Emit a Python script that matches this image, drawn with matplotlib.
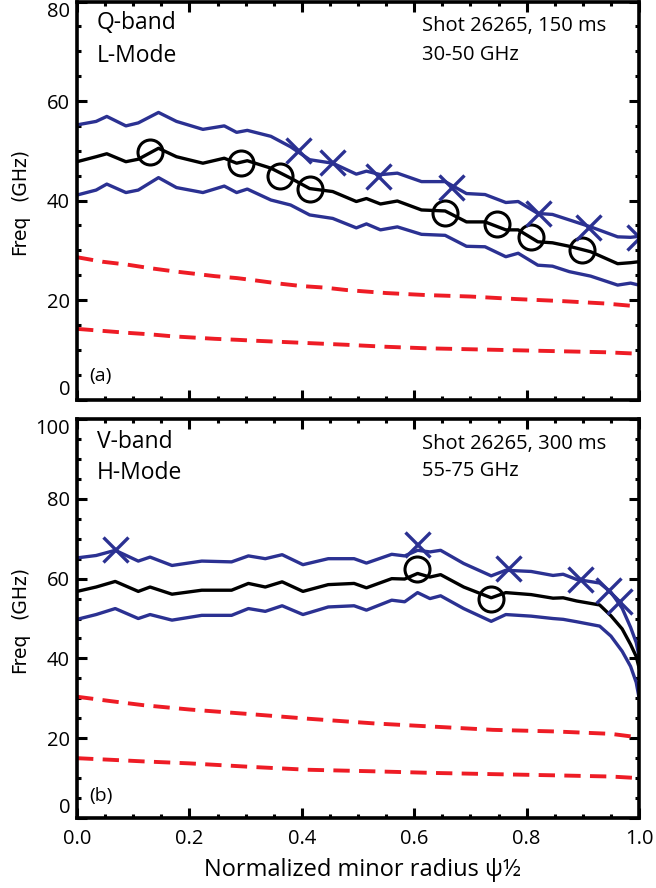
import matplotlib
matplotlib.use("Agg")
import matplotlib.pyplot as plt
from matplotlib.ticker import MultipleLocator

plt.rcParams["font.family"] = ["Open Sans", "DejaVu Sans"]

# --- panel (a): Q-band, L-mode ---
qa_x = [0, 0.034, 0.053, 0.087, 0.109, 0.145, 0.177, 0.224, 0.262, 0.284, 0.303,
        0.345, 0.38, 0.414, 0.455, 0.497, 0.515, 0.54, 0.57, 0.613, 0.655, 0.693,
        0.726, 0.763, 0.785, 0.82, 0.846, 0.876, 0.914, 0.962, 0.985, 1.0]
qa_upper = [55.2, 55.9, 56.9, 55.0, 55.6, 57.7, 55.9, 54.3, 55.0, 53.7, 54.1,
            52.9, 50.8, 48.2, 47.5, 45.3, 45.9, 45.2, 45.5, 43.8, 43.8, 41.4,
            41.2, 39.6, 39.8, 37.4, 37.2, 36.1, 34.7, 32.7, 32.6, 32.8]
qa_mid = [47.8, 48.8, 49.4, 47.8, 48.3, 50.5, 48.8, 47.5, 48.5, 47.5, 48.0,
          46.5, 44.5, 42.4, 41.8, 39.8, 40.4, 39.3, 39.9, 38.1, 37.9, 35.7,
          35.7, 34.1, 34.1, 31.7, 31.5, 30.8, 29.7, 27.3, 27.5, 27.7]
qa_lower = [41.1, 42.1, 43.3, 41.6, 42.1, 44.6, 42.6, 41.6, 42.9, 41.6, 42.3,
            40.1, 39.1, 37.1, 36.4, 34.5, 35.3, 34.1, 34.7, 33.2, 33.0, 30.8,
            30.7, 28.7, 29.4, 27.0, 26.8, 25.7, 24.8, 23.0, 23.4, 23.0]

qa_fc_x = [0, 0.045, 0.09, 0.13, 0.17, 0.2, 0.245, 0.285, 0.32, 0.36, 0.40,
           0.44, 0.48, 0.55, 0.62, 0.7, 0.78, 0.86, 0.94, 1.0]
qa_fc2 = [28.6, 27.7, 27.1, 26.4, 25.8, 25.4, 24.8, 24.4, 23.9, 23.3, 22.8,
          22.5, 22.0, 21.4, 21.0, 20.7, 20.2, 19.8, 19.3, 18.7]
qa_fc1 = [14.2, 13.8, 13.4, 13.1, 12.7, 12.5, 12.2, 12.0, 11.8, 11.6, 11.4,
          11.2, 11.0, 10.6, 10.3, 10.1, 9.9, 9.7, 9.5, 9.2]

qa_circ_x = [0.130, 0.291, 0.361, 0.414, 0.655, 0.748, 0.807, 0.899]
qa_circ_f = [49.8, 47.5, 44.9, 42.3, 37.5, 35.3, 32.6, 30.0]
qa_cross_x = [0.393, 0.454, 0.536, 0.666, 0.82, 0.91, 1.0]
qa_cross_f = [50.2, 47.8, 44.9, 42.7, 37.4, 34.7, 32.6]

# --- panel (b): V-band, H-mode ---
vb_x = [0, 0.034, 0.068, 0.109, 0.13, 0.169, 0.222, 0.275, 0.305, 0.335, 0.365,
        0.402, 0.447, 0.493, 0.515, 0.56, 0.583, 0.606, 0.628, 0.647, 0.688,
        0.737, 0.763, 0.808, 0.847, 0.865, 0.889, 0.93, 0.95, 0.97, 0.985,
        0.995, 1.0]
vb_upper = [65.2, 65.8, 67.1, 64.4, 65.4, 63.3, 64.4, 64.2, 65.7, 65.0, 66.0,
            63.5, 65.0, 65.0, 63.9, 66.1, 65.7, 67.1, 66.7, 67.1, 63.8,
            60.7, 62.1, 61.8, 60.8, 61.1, 59.8, 58.9, 56.6, 52.6, 47.8,
            44.0, 40.6]
vb_mid = [56.8, 57.9, 59.3, 56.8, 57.9, 56.1, 57.1, 57.1, 58.8, 57.9, 59.2,
          56.8, 58.5, 58.8, 57.7, 60.0, 59.9, 61.3, 60.4, 61.0, 57.9,
          55.2, 56.5, 56.0, 55.1, 55.2, 54.4, 53.4, 50.7, 47.4, 43.5,
          40.5, 37.7]
vb_lower = [49.8, 51.0, 52.5, 50.0, 51.0, 49.6, 50.8, 50.8, 52.5, 51.8, 53.2,
            51.0, 52.9, 53.2, 52.1, 54.6, 54.2, 56.5, 55.0, 55.7, 52.5,
            49.3, 51.0, 50.6, 50.0, 49.8, 49.2, 48.1, 45.6, 41.8, 38.0,
            34.0, 30.2]

vb_fc_x = [0, 0.06, 0.117, 0.2, 0.312, 0.41, 0.53, 0.635, 0.74, 0.85, 0.95, 1.0]
vb_fc2 = [30.4, 29.3, 28.3, 27.2, 26.0, 24.9, 23.7, 22.9, 22.1, 21.7, 21.1, 20.2]
vb_fc1 = [15.0, 14.6, 14.2, 13.7, 12.8, 12.1, 11.7, 11.3, 11.0, 10.7, 10.4, 10.0]

vb_circ_x = [0.605, 0.737]
vb_circ_f = [62.3, 55.0]
vb_cross_x = [0.068, 0.605, 0.767, 0.895, 0.945, 0.965]
vb_cross_f = [67.5, 68.7, 62.7, 59.8, 57.2, 54.5]

BLUE = "#2b3192"
RED = "#ee1c25"


def draw_panel(ax, x, up, mid, lo, fc_x, fc2, fc1, cx, cf, kx, kf, ymax):
    ax.plot(fc_x, fc2, color=RED, lw=2.8, dashes=(4.2, 2.4))
    ax.plot(fc_x, fc1, color=RED, lw=2.8, dashes=(4.2, 2.4))
    ax.plot(x, up, color=BLUE, lw=2.4)
    ax.plot(x, lo, color=BLUE, lw=2.4)
    ax.plot(x, mid, color="black", lw=2.4)
    ax.plot(cx, cf, ls="none", marker="o", ms=18, mfc="none", mec="black", mew=2.2)
    ax.plot(kx, kf, ls="none", marker="x", ms=18, mec=BLUE, mew=2.4)
    ax.set_xlim(0, 1)
    ax.set_ylim(0, ymax)
    ax.xaxis.set_major_locator(MultipleLocator(0.2))
    ax.xaxis.set_minor_locator(MultipleLocator(0.05))
    ax.set_yticks(list(range(0, ymax + 1, 20)))
    ax.yaxis.set_minor_locator(MultipleLocator(5))
    ax.tick_params(which="both", direction="in", top=True, right=True,
                   width=2.2, labelsize=14.5)
    ax.tick_params(which="major", length=7)
    ax.tick_params(which="minor", length=3)
    ax.tick_params(axis="y", pad=5)
    ax.tick_params(axis="x", pad=8)
    for s in ax.spines.values():
        s.set_linewidth(2.6)
    labels = ax.get_yticklabels()
    labels[0].set_verticalalignment("bottom")
    labels[-1].set_verticalalignment("top")
    # y label: "Freq" and a smaller "(GHz)", as two rotated texts
    ax.text(-0.102, 0.414, "Freq", rotation=90, transform=ax.transAxes,
            ha="center", va="center", fontsize=13.5, family=["DejaVu Sans"])
    ax.text(-0.102, 0.566, "(GHz)", rotation=90, transform=ax.transAxes,
            ha="center", va="center", fontsize=13.5, family=["DejaVu Sans"])


fig = plt.figure(figsize=(6.56, 8.88), dpi=100)
ax1 = fig.add_axes([0.1174, 0.5501, 0.8567, 0.4482])
ax2 = fig.add_axes([0.1174, 0.0788, 0.8567, 0.4493])

draw_panel(ax1, qa_x, qa_upper, qa_mid, qa_lower, qa_fc_x, qa_fc2, qa_fc1,
           qa_circ_x, qa_circ_f, qa_cross_x, qa_cross_f, 80)
draw_panel(ax2, vb_x, vb_upper, vb_mid, vb_lower, vb_fc_x, vb_fc2, vb_fc1,
           vb_circ_x, vb_circ_f, vb_cross_x, vb_cross_f, 100)
ax1.tick_params(axis="x", labelbottom=False)

ax1.text(0.0356, 0.931, "Q-band", transform=ax1.transAxes, fontsize=16.5, va="baseline")
ax1.text(0.0356, 0.848, "L-Mode", transform=ax1.transAxes, fontsize=16.5, va="baseline")
ax1.text(0.613, 0.925, "Shot 26265, 150 ms", transform=ax1.transAxes, fontsize=14.5, va="baseline")
ax1.text(0.613, 0.854, "30-50 GHz", transform=ax1.transAxes, fontsize=14.5, va="baseline")
ax1.text(0.021, 0.046, "(a)", transform=ax1.transAxes, fontsize=14, va="baseline")

ax2.text(0.0356, 0.927, "V-band", transform=ax2.transAxes, fontsize=16.5, va="baseline")
ax2.text(0.0356, 0.850, "H-Mode", transform=ax2.transAxes, fontsize=16.5, va="baseline")
ax2.text(0.613, 0.925, "Shot 26265, 300 ms", transform=ax2.transAxes, fontsize=14.5, va="baseline")
ax2.text(0.613, 0.857, "55-75 GHz", transform=ax2.transAxes, fontsize=14.5, va="baseline")
ax2.text(0.021, 0.043, "(b)", transform=ax2.transAxes, fontsize=14, va="baseline")

fig.text(362 / 656, 1 - 876 / 888, "Normalized minor radius \u03c8\u00bd",
         ha="center", va="baseline", fontsize=17)

fig.savefig("out.png", dpi=100)
